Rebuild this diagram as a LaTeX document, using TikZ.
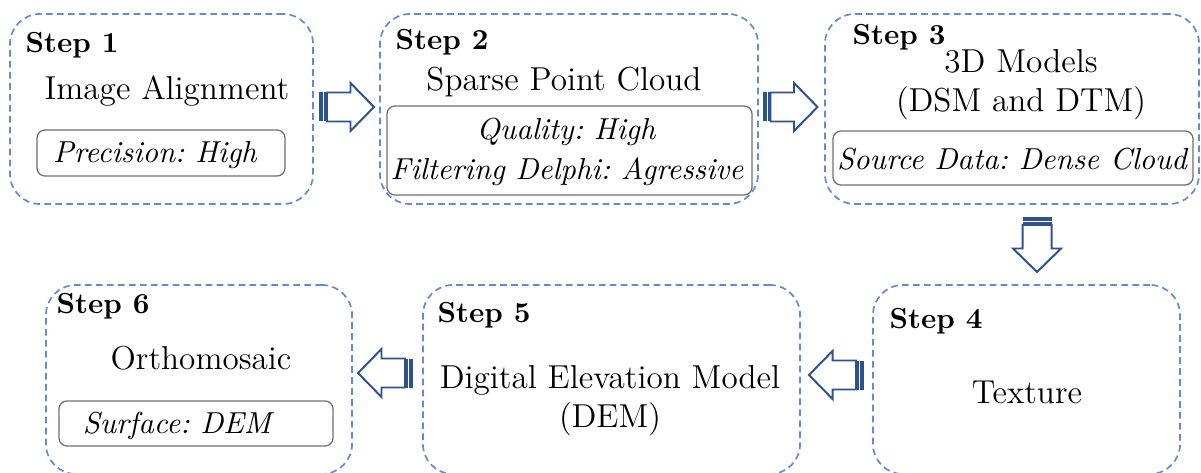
\documentclass[tikz,border=0pt]{standalone}
\usepackage{xcolor}
\usetikzlibrary{calc}
\definecolor{boxblue}{RGB}{98,140,210}
\definecolor{arrowblue}{RGB}{47,82,143}
\definecolor{innergray}{RGB}{110,110,110}
\frenchspacing
\tikzset{
  stepbox/.style={draw=boxblue,line width=0.6pt,dash pattern=on 2.4pt off 1.5pt,rounded corners=0.375cm,inner sep=0pt},
  innerbox/.style={draw=innergray,line width=0.45pt,rounded corners=0.1cm,inner sep=0pt},
  steplabel/.style={anchor=base west,inner sep=0pt,font=\fontsize{10.3}{12}\selectfont\bfseries},
  maintext/.style={anchor=base,inner sep=0pt,font=\fontsize{11.8}{14}\selectfont},
  subtext/.style={anchor=base,inner sep=0pt,font=\fontsize{10.8}{12}\selectfont\itshape},
  stripedarrow/.pic={
    \fill[arrowblue] (-27.5,-14.5) rectangle (-23.5,14.5);
    \fill[arrowblue] (-22.5,-14.5) rectangle (-20.5,14.5);
    \draw[arrowblue,fill=white,line width=0.7pt,line join=miter] (-19.5,-14.5) -- (4,-14.5) -- (4,-24) -- (27.5,0) -- (4,24) -- (4,14.5) -- (-19.5,14.5) -- cycle;
  }
}

\begin{document}
\begin{tikzpicture}[x=0.0125cm,y=-0.0125cm]
    \useasboundingbox (0,0) rectangle (1201,473);

    \node[stepbox,minimum width=3.7875cm,minimum height=2.375cm] (s1) at (161.5,109) {};
    \node[stepbox,minimum width=4.725cm,minimum height=2.375cm] (s2) at (569,109) {};
    \node[stepbox,minimum width=4.675cm,minimum height=2.375cm] (s3) at (1012,109) {};
    \node[stepbox,minimum width=3.8375cm,minimum height=2.3625cm] (s4) at (1026.5,379.5) {};
    \node[stepbox,minimum width=4.7125cm,minimum height=2.3625cm] (s5) at (611.5,379.5) {};
    \node[stepbox,minimum width=3.825cm,minimum height=2.3625cm] (s6) at (199,379.5) {};

    \node[innerbox,minimum width=3.1cm,minimum height=0.575cm] (i1) at (161,153) {};
    \node[innerbox,minimum width=4.5625cm,minimum height=1.1125cm] (i2) at (569.5,150.5) {};
    \node[innerbox,minimum width=4.5cm,minimum height=0.675cm] (i3) at (1013,158) {};
    \node[innerbox,minimum width=3.425cm,minimum height=0.5625cm] (i6) at (196,423.5) {};

    \node[steplabel] (st1) at (25,53) {Step 1};
    \node[steplabel] (st2) at (395,50) {Step 2};
    \node[steplabel] (st3) at (852,45) {Step 3};
    \node[steplabel] (st4) at (889,328) {Step 4};
    \node[steplabel] (st5) at (437,323) {Step 5};
    \node[steplabel] (st6) at (56,313) {Step 6};

    \node[maintext] (t1) at (167,100) {Image Alignment};
    \node[subtext] (q1) at (155,163) {Precision: High};

    \node[maintext] (t2) at (564,91) {Sparse Point Cloud};
    \node[subtext] (q2a) at (566,140) {Quality: High};
    \node[subtext] (q2b) at (567,180) {Filtering Delphi: Agressive};

    \node[maintext] (t3a) at (1021,73) {3D Models};
    \node[maintext] (t3b) at (1021,112) {(DSM and DTM)};
    \node[subtext] (q3) at (1012,170) {Source Data: Dense Cloud};

    \node[maintext] (t4) at (1027,403) {Texture};

    \node[maintext] (t5a) at (610,388) {Digital Elevation Model};
    \node[maintext] (t5b) at (610,427) {(DEM)};

    \node[maintext] (t6) at (201,370) {Orthomosaic};
    \node[subtext] (q6) at (177,433) {Surface: DEM};

    \pic at ($(s1.east)!0.5!(s2.west)+(0,-2)$) {stripedarrow};
    \pic at ($(s2.east)!0.5!(s3.west)+(-1.5,-2)$) {stripedarrow};
    \pic[rotate=-90] at ($(s3.south)!0.5!(s4.north)+(17.75,0)$) {stripedarrow};
    \pic[rotate=180] at ($(s4.west)!0.5!(s5.east)+(0,-4.5)$) {stripedarrow};
    \pic[rotate=180] at ($(s5.west)!0.5!(s6.east)+(-2,-6.5)$) {stripedarrow};
\end{tikzpicture}
\end{document}
